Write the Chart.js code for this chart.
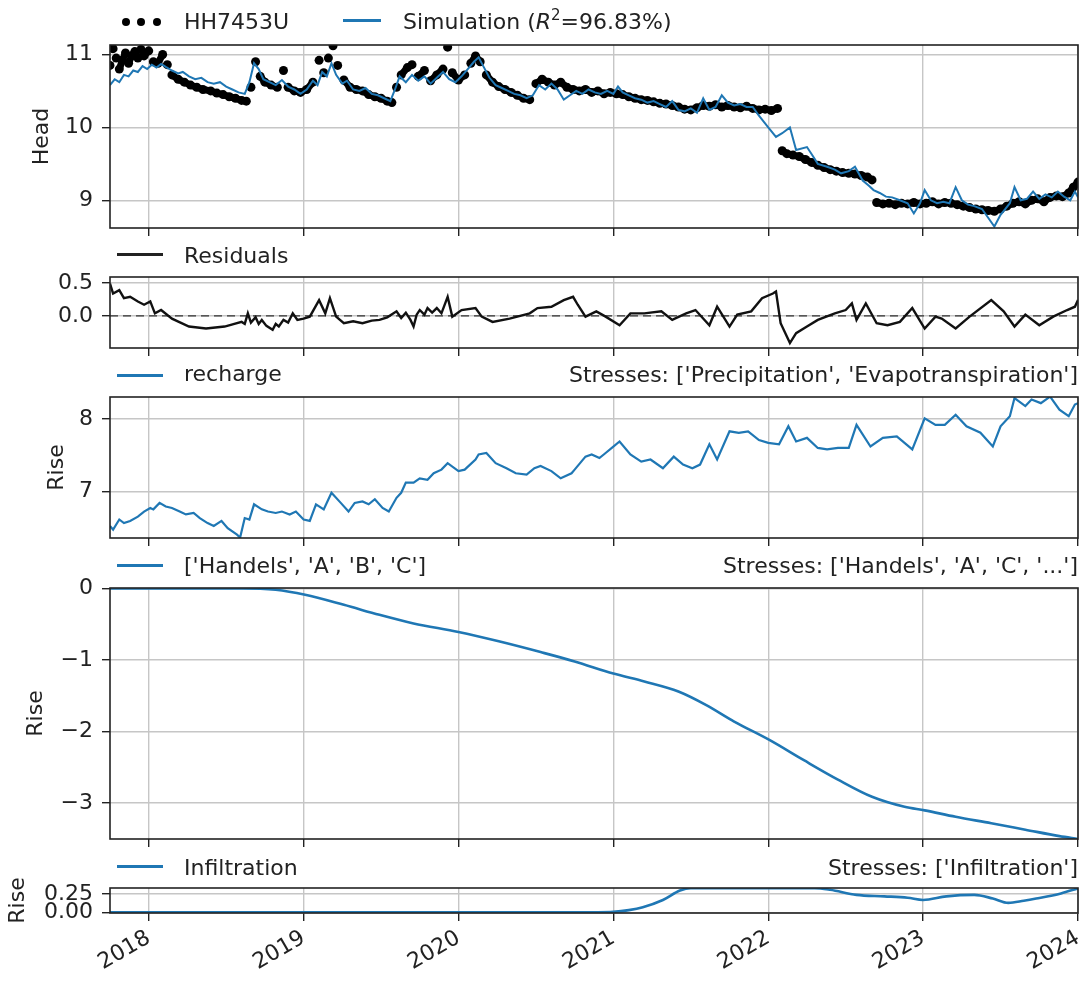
<!DOCTYPE html>
<html>
<head>
<meta charset="utf-8">
<title>Model decomposition</title>
<script src="https://cdn.jsdelivr.net/npm/chart.js@4.4.0/dist/chart.umd.min.js"></script>
<style>
  body { margin: 0; background: #fff; }
  #fig { position: relative; width: 1083px; height: 983px; overflow: hidden;
         font-family: 'DejaVu Sans', sans-serif; color: #222; }
  #fig canvas { position: absolute; left: 0; }
  .txt { position: absolute; font-size: 22px; line-height: 22px; white-space: nowrap; }
  .right { right: 5px; text-align: right; }
  .handle { position: absolute; left: 117px; width: 46px; height: 0; border-top: 3px solid #1f77b4; }
  .dot { position: absolute; width: 8px; height: 8px; border-radius: 50%; background: #000; }
  .sup { font-size: 15px; position: relative; top: -9px; }
</style>
</head>
<body>
<div id="fig">
  <canvas id="cHead"></canvas>
  <canvas id="cResid"></canvas>
  <canvas id="cRech"></canvas>
  <canvas id="cHand"></canvas>
  <canvas id="cInf"></canvas>

  <!-- legends -->
  <div class="dot" style="left:122px;top:18px"></div>
  <div class="dot" style="left:137px;top:18px"></div>
  <div class="dot" style="left:153px;top:18px"></div>
  <div class="txt" style="left:184px;top:11px">HH7453U</div>
  <div class="handle" style="left:343px;width:38px;top:18.5px"></div>
  <div class="txt" style="left:403px;top:11px">Simulation (<i>R</i><span class="sup">2</span>=96.83%)</div>

  <div class="handle" style="top:252.5px;border-color:#222"></div>
  <div class="txt" style="left:184px;top:245px">Residuals</div>

  <div class="handle" style="top:373.5px"></div>
  <div class="txt" style="left:184px;top:363px">recharge</div>
  <div class="txt right" style="top:364px">Stresses: ['Precipitation', 'Evapotranspiration']</div>

  <div class="handle" style="top:563.5px"></div>
  <div class="txt" style="left:184px;top:555px">['Handels', 'A', 'B', 'C']</div>
  <div class="txt right" style="top:555px">Stresses: ['Handels', 'A', 'C', '...']</div>

  <div class="handle" style="top:864.5px"></div>
  <div class="txt" style="left:184px;top:857px">Infiltration</div>
  <div class="txt right" style="top:857px">Stresses: ['Infiltration']</div>
</div>

<script>
const X_MIN = 2017.75, X_MAX = 2024.0;
const years = [2018, 2019, 2020, 2021, 2022, 2023, 2024];

// observed head (decimal year, m)
const obsHead = [
  [2017.75,10.85],[2017.77,11.08],[2017.79,10.95],[2017.81,10.80],[2017.83,10.92],[2017.85,11.02],
  [2017.87,10.88],[2017.89,10.98],[2017.91,11.04],[2017.93,10.95],[2017.95,11.07],[2017.97,10.98],
  [2018.00,11.05],[2018.03,10.90],[2018.06,10.88],[2018.09,11.00],[2018.12,10.86],[2018.15,10.72],
  [2018.19,10.66],[2018.23,10.62],[2018.27,10.58],[2018.31,10.55],[2018.35,10.52],[2018.40,10.50],
  [2018.44,10.47],[2018.48,10.45],[2018.52,10.42],[2018.56,10.40],[2018.60,10.37],[2018.63,10.36],
  [2018.66,10.55],[2018.69,10.90],[2018.72,10.70],[2018.75,10.62],[2018.79,10.58],[2018.83,10.55],
  [2018.87,10.78],[2018.90,10.55],[2018.94,10.50],[2018.98,10.48],[2019.02,10.52],[2019.06,10.62],
  [2019.10,10.92],[2019.13,10.75],[2019.16,10.95],[2019.19,11.12],[2019.22,10.85],[2019.26,10.65],
  [2019.30,10.55],[2019.34,10.52],[2019.38,10.50],[2019.42,10.45],[2019.46,10.42],[2019.50,10.40],
  [2019.54,10.36],[2019.57,10.34],[2019.60,10.55],[2019.63,10.72],[2019.67,10.82],[2019.70,10.86],
  [2019.74,10.70],[2019.78,10.78],[2019.82,10.64],[2019.86,10.72],[2019.90,10.80],[2019.93,11.10],
  [2019.96,10.75],[2020.00,10.65],[2020.04,10.72],[2020.08,10.88],[2020.11,10.98],[2020.14,10.90],
  [2020.18,10.72],[2020.22,10.62],[2020.26,10.56],[2020.30,10.52],[2020.34,10.48],[2020.38,10.44],
  [2020.42,10.40],[2020.46,10.38],[2020.50,10.60],[2020.54,10.66],[2020.58,10.62],[2020.62,10.58],
  [2020.66,10.62],[2020.70,10.55],[2020.74,10.52],[2020.78,10.50],[2020.82,10.52],[2020.86,10.48],
  [2020.90,10.50],[2020.94,10.46],[2020.98,10.48],[2021.02,10.46],[2021.06,10.45],[2021.10,10.42],
  [2021.14,10.40],[2021.18,10.38],[2021.22,10.37],[2021.26,10.35],[2021.30,10.33],[2021.34,10.32],
  [2021.38,10.30],[2021.42,10.28],[2021.46,10.25],[2021.50,10.24],[2021.54,10.27],[2021.58,10.30],
  [2021.62,10.29],[2021.66,10.31],[2021.70,10.28],[2021.74,10.30],[2021.78,10.28],[2021.82,10.27],
  [2021.86,10.29],[2021.90,10.26],[2021.94,10.24],[2021.98,10.25],[2022.02,10.23],[2022.06,10.26],
  [2022.09,9.68],[2022.12,9.64],[2022.16,9.62],[2022.20,9.60],[2022.24,9.56],[2022.28,9.52],
  [2022.32,9.48],[2022.36,9.45],[2022.40,9.42],[2022.44,9.40],[2022.48,9.38],[2022.52,9.37],
  [2022.56,9.36],[2022.60,9.34],[2022.64,9.32],[2022.67,9.28],[2022.70,8.97],[2022.74,8.95],
  [2022.78,8.96],[2022.82,8.94],[2022.86,8.96],[2022.90,8.95],[2022.94,8.97],[2022.98,8.95],
  [2023.02,8.96],[2023.06,8.98],[2023.10,8.95],[2023.14,8.97],[2023.18,8.96],[2023.22,8.94],
  [2023.26,8.92],[2023.30,8.90],[2023.34,8.88],[2023.38,8.87],[2023.42,8.86],[2023.46,8.85],
  [2023.50,8.88],[2023.54,8.92],[2023.58,8.96],[2023.62,8.98],[2023.66,8.95],[2023.70,9.00],
  [2023.74,9.02],[2023.78,8.98],[2023.82,9.04],[2023.86,9.06],[2023.90,9.05],[2023.94,9.10],
  [2023.97,9.18],[2024.00,9.25]
];

// simulated head
const simHead = [
  [2017.75,10.58],[2017.78,10.66],[2017.81,10.62],[2017.84,10.72],[2017.87,10.70],[2017.90,10.78],
  [2017.93,10.76],[2017.96,10.84],[2017.99,10.80],[2018.02,10.86],[2018.05,10.82],[2018.08,10.87],
  [2018.11,10.83],[2018.15,10.78],[2018.19,10.74],[2018.22,10.76],[2018.26,10.70],[2018.30,10.66],
  [2018.34,10.68],[2018.38,10.62],[2018.42,10.60],[2018.46,10.62],[2018.50,10.56],[2018.54,10.52],
  [2018.58,10.48],[2018.62,10.46],[2018.65,10.62],[2018.68,10.88],[2018.71,10.80],[2018.74,10.66],
  [2018.78,10.62],[2018.82,10.58],[2018.86,10.65],[2018.90,10.56],[2018.94,10.52],[2018.98,10.46],
  [2019.02,10.52],[2019.06,10.64],[2019.09,10.58],[2019.12,10.76],[2019.15,10.70],[2019.18,10.88],
  [2019.21,10.72],[2019.25,10.60],[2019.28,10.64],[2019.32,10.52],[2019.36,10.50],[2019.40,10.54],
  [2019.44,10.46],[2019.48,10.44],[2019.52,10.40],[2019.56,10.36],[2019.59,10.52],[2019.62,10.70],
  [2019.66,10.62],[2019.70,10.72],[2019.74,10.64],[2019.78,10.70],[2019.82,10.60],[2019.86,10.68],
  [2019.90,10.76],[2019.94,10.66],[2019.98,10.62],[2020.02,10.70],[2020.06,10.80],[2020.10,10.90],
  [2020.13,10.96],[2020.16,10.84],[2020.20,10.68],[2020.24,10.58],[2020.28,10.54],[2020.32,10.50],
  [2020.36,10.46],[2020.40,10.44],[2020.44,10.40],[2020.48,10.44],[2020.52,10.58],[2020.56,10.52],
  [2020.60,10.60],[2020.64,10.52],[2020.68,10.38],[2020.72,10.44],[2020.76,10.50],[2020.80,10.46],
  [2020.84,10.52],[2020.88,10.48],[2020.92,10.46],[2020.96,10.50],[2021.00,10.46],[2021.03,10.56],
  [2021.06,10.48],[2021.10,10.44],[2021.14,10.40],[2021.18,10.38],[2021.22,10.34],[2021.26,10.36],
  [2021.30,10.32],[2021.34,10.28],[2021.38,10.36],[2021.42,10.24],[2021.46,10.22],[2021.50,10.26],
  [2021.54,10.20],[2021.58,10.40],[2021.62,10.24],[2021.66,10.28],[2021.70,10.44],[2021.74,10.34],
  [2021.78,10.30],[2021.82,10.32],[2021.86,10.28],[2021.90,10.28],[2021.94,10.16],[2022.00,10.00],
  [2022.05,9.87],[2022.09,9.92],[2022.14,10.00],[2022.18,9.69],[2022.25,9.73],[2022.29,9.60],
  [2022.32,9.50],[2022.38,9.46],[2022.43,9.42],[2022.47,9.37],[2022.52,9.40],[2022.56,9.46],
  [2022.61,9.27],[2022.65,9.20],[2022.68,9.14],[2022.72,9.10],[2022.76,9.05],[2022.80,9.04],
  [2022.85,9.00],[2022.90,8.96],[2022.94,8.82],[2022.98,8.96],[2023.01,9.14],[2023.05,9.00],
  [2023.09,8.96],[2023.13,8.98],[2023.17,8.96],[2023.21,9.18],[2023.25,9.00],[2023.29,8.94],
  [2023.33,8.92],[2023.38,8.88],[2023.42,8.76],[2023.46,8.64],[2023.50,8.80],[2023.53,8.88],
  [2023.56,8.96],[2023.59,9.18],[2023.63,9.00],[2023.67,9.02],[2023.71,9.12],[2023.75,9.02],
  [2023.79,9.08],[2023.83,9.04],[2023.87,9.12],[2023.91,9.05],[2023.95,9.00],[2023.98,9.12],
  [2024.00,9.04]
];

// residuals (observed - simulated)
const residuals = [
  [2017.75,0.49],[2017.77,0.34],[2017.81,0.39],[2017.84,0.27],[2017.88,0.29],[2017.93,0.22],
  [2017.97,0.17],[2018.01,0.22],[2018.04,0.04],[2018.08,0.09],[2018.15,-0.04],[2018.26,-0.16],
  [2018.37,-0.19],[2018.49,-0.16],[2018.60,-0.09],[2018.62,-0.12],[2018.64,0.04],[2018.66,-0.10],
  [2018.69,-0.02],[2018.71,-0.12],[2018.73,-0.06],[2018.76,-0.15],[2018.80,-0.21],[2018.82,-0.12],
  [2018.84,-0.16],[2018.87,-0.06],[2018.90,-0.10],[2018.93,0.04],[2018.96,-0.06],[2019.00,-0.04],
  [2019.04,-0.01],[2019.10,0.24],[2019.14,0.04],[2019.17,0.27],[2019.21,-0.01],[2019.26,-0.11],
  [2019.32,-0.08],[2019.38,-0.11],[2019.44,-0.07],[2019.49,-0.06],[2019.54,-0.02],[2019.60,0.07],
  [2019.63,-0.03],[2019.66,0.05],[2019.69,-0.06],[2019.71,-0.16],[2019.73,0.02],[2019.75,0.09],
  [2019.78,0.02],[2019.80,0.12],[2019.83,0.05],[2019.86,0.12],[2019.89,0.04],[2019.93,0.29],
  [2019.96,-0.01],[2020.02,0.09],[2020.11,0.12],[2020.15,-0.01],[2020.22,-0.09],[2020.33,-0.04],
  [2020.46,0.04],[2020.51,0.12],[2020.60,0.14],[2020.68,0.24],[2020.74,0.29],[2020.77,0.17],
  [2020.82,-0.01],[2020.89,0.07],[2020.95,-0.01],[2021.04,-0.14],[2021.11,0.04],[2021.20,0.04],
  [2021.31,0.07],[2021.38,-0.06],[2021.47,0.04],[2021.53,0.09],[2021.62,-0.14],[2021.67,0.14],
  [2021.75,-0.16],[2021.80,0.02],[2021.89,0.07],[2021.96,0.27],[2022.03,0.34],[2022.05,0.37],
  [2022.08,-0.11],[2022.14,-0.41],[2022.18,-0.26],[2022.25,-0.16],[2022.32,-0.06],[2022.43,0.04],
  [2022.50,0.09],[2022.54,0.19],[2022.57,-0.06],[2022.63,0.19],[2022.70,-0.11],[2022.77,-0.14],
  [2022.85,-0.09],[2022.93,0.12],[2023.01,-0.19],[2023.08,-0.01],[2023.12,-0.04],[2023.21,-0.19],
  [2023.30,-0.01],[2023.44,0.24],[2023.52,0.07],[2023.59,-0.16],[2023.66,0.02],[2023.75,-0.14],
  [2023.84,-0.01],[2023.93,0.09],[2023.98,0.14],[2024.00,0.24]
];

// recharge contribution
const recharge = [
  [2017.75,6.52],[2017.77,6.47],[2017.81,6.61],[2017.84,6.56],[2017.88,6.59],[2017.93,6.65],
  [2017.97,6.72],[2018.01,6.77],[2018.03,6.75],[2018.07,6.84],[2018.11,6.79],[2018.15,6.77],
  [2018.20,6.72],[2018.24,6.68],[2018.29,6.70],[2018.33,6.63],[2018.38,6.56],[2018.42,6.52],
  [2018.47,6.59],[2018.51,6.49],[2018.57,6.40],[2018.59,6.36],[2018.62,6.63],[2018.65,6.61],
  [2018.68,6.82],[2018.73,6.75],[2018.77,6.72],[2018.82,6.70],[2018.86,6.72],[2018.91,6.68],
  [2018.95,6.72],[2019.00,6.61],[2019.04,6.59],[2019.08,6.82],[2019.13,6.75],[2019.18,6.98],
  [2019.24,6.84],[2019.29,6.72],[2019.33,6.84],[2019.38,6.86],[2019.42,6.82],[2019.46,6.89],
  [2019.51,6.77],[2019.55,6.72],[2019.60,6.91],[2019.63,6.98],[2019.66,7.12],[2019.71,7.12],
  [2019.75,7.18],[2019.80,7.16],[2019.84,7.25],[2019.89,7.30],[2019.93,7.39],[2020.00,7.28],
  [2020.04,7.30],[2020.11,7.44],[2020.13,7.51],[2020.18,7.53],[2020.24,7.39],[2020.31,7.32],
  [2020.37,7.25],[2020.44,7.23],[2020.49,7.32],[2020.53,7.35],[2020.60,7.28],[2020.66,7.18],
  [2020.73,7.25],[2020.75,7.30],[2020.82,7.48],[2020.86,7.51],[2020.91,7.46],[2020.95,7.53],
  [2020.99,7.60],[2021.04,7.69],[2021.11,7.51],[2021.18,7.41],[2021.24,7.44],[2021.32,7.32],
  [2021.39,7.48],[2021.45,7.37],[2021.51,7.32],[2021.56,7.37],[2021.62,7.65],[2021.67,7.44],
  [2021.75,7.83],[2021.81,7.81],[2021.87,7.83],[2021.94,7.71],[2022.00,7.67],[2022.07,7.65],
  [2022.13,7.90],[2022.18,7.69],[2022.25,7.74],[2022.32,7.60],[2022.38,7.58],[2022.45,7.60],
  [2022.52,7.60],[2022.57,7.92],[2022.66,7.62],[2022.74,7.74],[2022.83,7.76],[2022.93,7.58],
  [2023.01,8.01],[2023.08,7.92],[2023.14,7.92],[2023.21,8.06],[2023.28,7.90],[2023.37,7.81],
  [2023.45,7.62],[2023.50,7.90],[2023.56,8.04],[2023.59,8.29],[2023.66,8.18],[2023.70,8.27],
  [2023.76,8.22],[2023.82,8.31],[2023.88,8.13],[2023.94,8.04],[2023.98,8.20],[2024.00,8.22]
];

// well field contribution
const handels = [
  [2017.75,0],[2018.30,0],[2018.60,0],[2018.82,-0.02],[2019.01,-0.09],[2019.26,-0.23],
  [2019.49,-0.37],[2019.71,-0.49],[2020.00,-0.61],[2020.26,-0.74],[2020.53,-0.89],[2020.75,-1.02],
  [2021.00,-1.19],[2021.20,-1.30],[2021.42,-1.44],[2021.60,-1.63],[2021.78,-1.86],[2022.01,-2.12],
  [2022.23,-2.40],[2022.45,-2.67],[2022.67,-2.91],[2022.88,-3.05],[2023.01,-3.10],[2023.21,-3.19],
  [2023.44,-3.28],[2023.66,-3.37],[2023.88,-3.46],[2024.00,-3.50]
];

// infiltration contribution
const infiltration = [
  [2017.75,0],[2020.90,0],[2021.00,0.005],[2021.10,0.03],[2021.19,0.07],[2021.32,0.17],
  [2021.43,0.30],[2021.50,0.333],[2021.80,0.333],[2022.10,0.333],[2022.30,0.333],[2022.40,0.31],
  [2022.57,0.24],[2022.75,0.22],[2022.90,0.20],[2023.00,0.17],[2023.15,0.22],[2023.33,0.24],
  [2023.45,0.19],[2023.55,0.13],[2023.65,0.16],[2023.73,0.19],[2023.89,0.26],[2024.00,0.33]
];

const headTicks = [9, 10, 11];
const residTicks = [0, 0.5];
const rechTicks = [7, 8];
const handTicks = [-3, -2, -1, 0];
const infTicks = [0, 0.25];

const BLUE = '#1f77b4';
const INK = '#222';
const FONT = { family: "'DejaVu Sans', sans-serif", size: 22 };
const pts = arr => arr.map(([x, y]) => ({ x, y }));

// axes frame drawn on top of the data, like matplotlib spines
const frame = {
  id: 'frame',
  afterDatasetsDraw(chart) {
    const { ctx, chartArea: a } = chart;
    ctx.save();
    ctx.strokeStyle = INK;
    ctx.lineWidth = 1.6;
    ctx.strokeRect(a.left, a.top, a.right - a.left, a.bottom - a.top);
    ctx.restore();
  }
};

function panel(id, top, bottom, cfg) {
  const padTop = 16;
  const axisH = cfg.axisH || 10;
  const canvas = document.getElementById(id);
  canvas.width = 1083;
  canvas.height = padTop + (bottom - top) + axisH;
  canvas.style.top = (top - padTop) + 'px';

  return new Chart(canvas, {
    type: 'line',
    data: { datasets: cfg.datasets },
    options: {
      responsive: false,
      animation: false,
      events: [],
      layout: { padding: { top: padTop, right: 5, left: 0, bottom: 0 } },
      plugins: { legend: { display: false }, tooltip: { enabled: false } },
      scales: {
        x: {
          type: 'linear', min: X_MIN, max: X_MAX,
          afterBuildTicks: s => { s.ticks = years.map(v => ({ value: v })); },
          afterFit: s => { s.height = axisH; s.paddingLeft = 0; s.paddingRight = 0; },
          border: { display: false },
          grid: { color: '#c6c6c6', lineWidth: 1.4, tickColor: INK, tickWidth: 1.4, tickLength: 8 },
          ticks: {
            display: !!cfg.showYears, autoSkip: false, minRotation: 30, maxRotation: 30,
            padding: 4, color: INK, font: FONT, callback: v => String(v)
          }
        },
        y: {
          min: cfg.yMin, max: cfg.yMax,
          afterBuildTicks: s => { s.ticks = cfg.yTicks.map(v => ({ value: v })); },
          afterFit: s => { s.width = 110; s.paddingTop = 0; s.paddingBottom = 0; },
          border: { display: false },
          grid: { color: '#c6c6c6', lineWidth: 1.4, tickColor: INK, tickWidth: 1.4, tickLength: 8 },
          ticks: { autoSkip: false, padding: 9, color: INK, font: FONT, callback: cfg.fmt },
          title: {
            display: !!cfg.yTitle, text: cfg.yTitle, color: INK, font: FONT,
            padding: { top: cfg.titlePad || 0, bottom: 0 }
          }
        }
      }
    },
    plugins: [frame]
  });
}

const line = (data, color, width, extra) => Object.assign({
  data: pts(data), borderColor: color, borderWidth: width,
  pointRadius: 0, tension: 0, fill: false
}, extra || {});

// observations: dense dots, joined by a thick stroke except across jumps
const obsDots = {
  data: pts(obsHead), showLine: true, borderWidth: 7, borderColor: '#000',
  borderJoinStyle: 'round', borderCapStyle: 'round', tension: 0,
  pointRadius: 4.5, pointBorderWidth: 0, pointBackgroundColor: '#000',
  segment: {
    borderColor: c => (Math.abs(c.p1.parsed.y - c.p0.parsed.y) > 0.12 ? 'rgba(0,0,0,0)' : '#000')
  }
};

panel('cHead', 45, 228, {
  yMin: 8.62, yMax: 11.13, yTicks: headTicks, yTitle: 'Head', titlePad: 29,
  fmt: v => String(v),
  datasets: [ line(simHead, BLUE, 2), obsDots ]
});

panel('cResid', 277, 348, {
  yMin: -0.485, yMax: 0.59, yTicks: residTicks,
  fmt: v => v.toFixed(1),
  datasets: [
    line(residuals, '#111', 2.4),
    line([[X_MIN, 0], [X_MAX, 0]], '#333', 1.3, { borderDash: [8, 5] })
  ]
});

panel('cRech', 397, 538, {
  yMin: 6.354, yMax: 8.305, yTicks: rechTicks, yTitle: 'Rise', titlePad: 44,
  fmt: v => String(v),
  datasets: [ line(recharge, BLUE, 2.2) ]
});

panel('cHand', 588, 839, {
  yMin: -3.5, yMax: 0.005, yTicks: handTicks, yTitle: 'Rise', titlePad: 23,
  fmt: v => (v === 0 ? '0' : '\u2212' + Math.abs(v)),
  datasets: [ line(handels, BLUE, 2.6, { cubicInterpolationMode: 'monotone' }) ]
});

panel('cInf', 888, 913, {
  yMin: -0.01, yMax: 0.335, yTicks: infTicks, yTitle: 'Rise', titlePad: 5,
  fmt: v => v.toFixed(2), showYears: true, axisH: 70,
  datasets: [ line(infiltration, BLUE, 2.6, { cubicInterpolationMode: 'monotone' }) ]
});
</script>
</body>
</html>
